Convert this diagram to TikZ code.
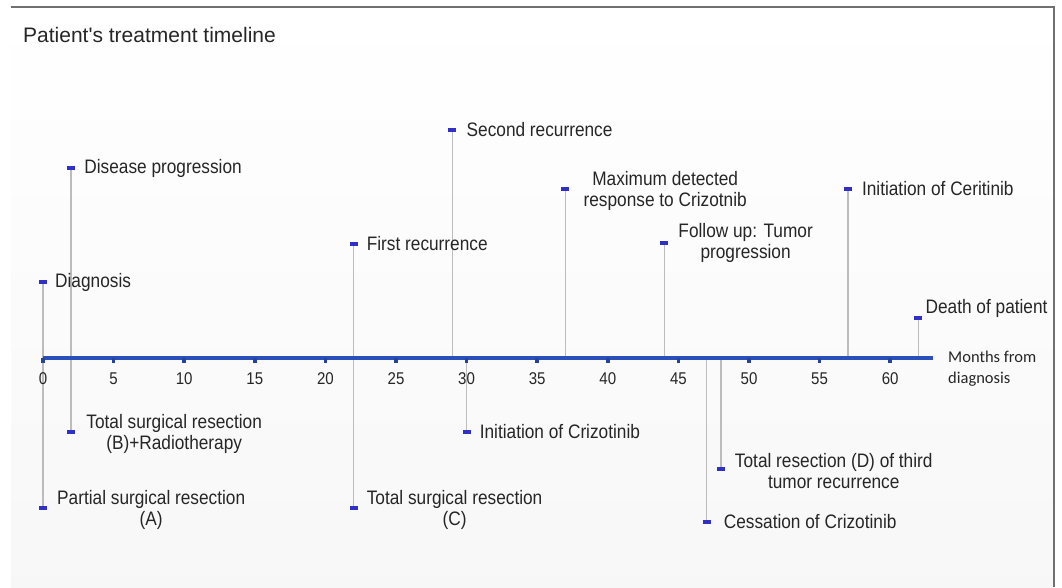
\documentclass[tikz,border=0pt]{standalone}
\usepackage{fontspec}
\setmainfont{Liberation Sans}
\newfontfamily\labfont[FakeStretch=0.885]{Liberation Sans}
\newfontfamily\ttlfont{Liberation Sans}
\newfontfamily\calfont{Carlito}
\definecolor{axisblue}{RGB}{42,78,186}
\definecolor{markblue}{RGB}{48,48,196}
\definecolor{stemgray}{RGB}{188,188,188}
\definecolor{txtgray}{RGB}{38,38,38}
\definecolor{framegray}{RGB}{112,112,112}
\newcommand\evpt[3]{%
  \coordinate (#1m) at ({43+14.12*#2},#3);
  \coordinate (#1a) at ({43+14.12*#2},358);
  \draw[stem] (#1a) -- (#1m);}
\newcommand\evmk[1]{\draw[evmark] ([xshift=-4pt]#1m) -- ([xshift=4pt]#1m);}
\begin{document}
\begin{tikzpicture}[x=1pt,y=-1pt,
  stem/.style={draw=stemgray,line width=1.5pt},
  evmark/.style={draw=markblue,line width=3.2pt},
  axisline/.style={draw=axisblue,line width=4pt},
  lab/.style={font=\labfont\fontsize{19.5}{21}\selectfont,text=txtgray,inner sep=0pt,anchor=west,align=center},
  ticklab/.style={font=\labfont\fontsize{17}{20}\selectfont,text=txtgray,inner sep=0pt},
  framestyle/.style={draw=framegray,line width=2pt}]
\useasboundingbox (0,0) rectangle (1062,587);
% background and frame
\shade[top color=white,middle color=black!12,bottom color=white!97!black] (11,7) rectangle (1054,587);
\coordinate (fa) at (11,7);
\coordinate (fb) at (1054,7);
\coordinate (fc) at (1054,587);
\draw[framestyle] (fa) -- (fb) -- (fc);
% title
\node[font=\ttlfont\fontsize{21}{25}\selectfont,text=txtgray,inner sep=0pt,anchor=west] (title) at (23,35) {Patient's treatment timeline};
% stems (above)
\evpt{diag}{0}{282}
\evpt{prog}{2}{168}
\evpt{first}{22}{244}
\evpt{second}{29}{130}
\evpt{maxr}{37}{189}
\evpt{foll}{44}{243}
\evpt{ceri}{57}{189}
\evpt{death}{62}{318}
% stems (below)
\evpt{partA}{0}{508}
\evpt{totB}{2}{432}
\evpt{totC}{22}{508}
\evpt{initC}{30}{432}
\evpt{totD}{48}{469}
\evpt{cess}{47}{522}
% axis
\coordinate (ax0) at (43,358);
\coordinate (ax1) at (933,358);
\draw[axisline] (ax0) -- (ax1);
\foreach \m in {0,5,...,60}{
  \coordinate (tk\m) at ({43+14.12*\m},358);
  \draw[draw=axisblue!85!black,line width=3.5pt] (tk\m) -- ++(0,4.5);
  \node[ticklab] (t\m) at ({43+14.12*\m},379) {\m};
}
\node[font=\calfont\fontsize{16.5}{21}\selectfont,text=txtgray,inner sep=0pt,anchor=west,align=left] (xlab) at (948,369) {Months from\\diagnosis};
% markers
\foreach \e in {diag,prog,first,second,maxr,foll,ceri,death,partA,totB,totC,initC,totD,cess}{\evmk{\e}}
% labels
\node[lab] (ldiag) at ([xshift=12pt]diagm) {Diagnosis};
\node[lab] (lprog) at ([xshift=13pt]progm) {Disease progression};
\node[lab] (lfirst) at ([xshift=13pt]firstm) {First recurrence};
\node[lab] (lsecond) at ([xshift=14pt]secondm) {Second recurrence};
\node[lab] (lmaxr) at ([xshift=18pt,yshift=-2pt]maxrm) {Maximum detected\\response to Crizotnib};
\node[lab] (lfoll) at ([xshift=14pt]follm) {Follow up: Tumor\\progression};
\node[lab] (lceri) at ([xshift=14pt]cerim) {Initiation of Ceritinib};
\node[lab] (ldeath) at ([xshift=7pt,yshift=10pt]deathm) {Death of patient};
\node[lab] (lpartA) at ([xshift=14pt,yshift=-2pt]partAm) {Partial surgical resection\\(A)};
\node[lab] (ltotB) at ([xshift=15pt,yshift=-2pt]totBm) {Total surgical resection\\(B)+Radiotherapy};
\node[lab] (ltotC) at ([xshift=13pt,yshift=-2pt]totCm) {Total surgical resection\\(C)};
\node[lab] (linitC) at ([xshift=13pt]initCm) {Initiation of Crizotinib};
\node[lab] (ltotD) at ([xshift=14pt,yshift=-2pt]totDm) {Total resection (D) of third\\tumor recurrence};
\node[lab] (lcess) at ([xshift=17pt]cessm) {Cessation of Crizotinib};
\end{tikzpicture}
\end{document}
